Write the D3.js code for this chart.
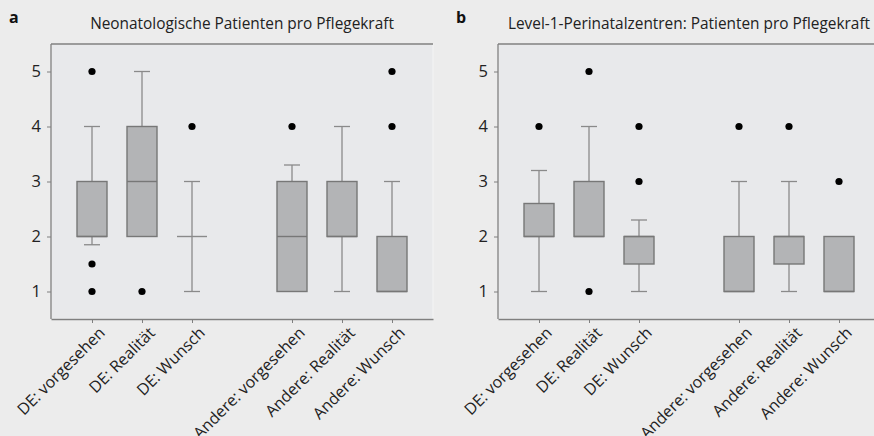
<!DOCTYPE html>
<html>
<head>
<meta charset="utf-8">
<script src="https://cdn.jsdelivr.net/npm/d3@7"></script>
<style>
  body { margin: 0; background: #ececec; }
  svg { display: block; font-family: "Open Sans", "Noto Sans", sans-serif; }
</style>
</head>
<body>
<script>
// categories (the empty slot "gap" separates the DE and Andere groups)
const categories = ["DE: vorgesehen", "DE: Realität", "DE: Wunsch", "gap",
  "Andere: vorgesehen", "Andere: Realität", "Andere: Wunsch"];
const labels = categories.filter(d => d !== "gap");
const yTicks = [1, 2, 3, 4, 5];

// panel a: Neonatologische Patienten pro Pflegekraft
const aQ1      = [2, 2, 2, 1, 2, 1];
const aMedian  = [2, 3, 2, 2, 2, 1];
const aQ3      = [3, 4, 2, 3, 3, 2];
const aLow     = [1.85, 2, 1, 1, 1, 1];
const aHigh    = [4, 5, 3, 3.3, 4, 3];
const aOut     = [[5, 1.5, 1], [1], [4], [4], [], [4, 5]];

// panel b: Level-1-Perinatalzentren
const bQ1      = [2, 2, 1.5, 1, 1.5, 1];
const bMedian  = [2, 2, 2, 1, 2, 1];
const bQ3      = [2.6, 3, 2, 2, 2, 2];
const bLow     = [1, 2, 1, 1, 1, 1];
const bHigh    = [3.2, 4, 2.3, 3, 3, 2];
const bOut     = [[4], [5, 1], [4, 3], [4], [4], [3]];

const W = 874, H = 436;
const svg = d3.select("body").append("svg").attr("width", W).attr("height", H);

function buildRows(q1, med, q3, lo, hi, out) {
  return labels.map((c, i) => ({ cat: c, q1: q1[i], med: med[i], q3: q3[i], lo: lo[i], hi: hi[i], out: out[i] }));
}

function drawPanel(left, letter, title, rows) {
  const top = 44, bottom = 319, pw = 382;
  const g = svg.append("g");

  const x = d3.scalePoint().domain(categories).range([left, left + pw]).padding(0.82);
  const y = d3.scaleLinear().domain([0.5, 5.5]).range([bottom, top]);

  g.append("rect")
    .attr("x", left).attr("y", top).attr("width", pw).attr("height", bottom - top)
    .attr("fill", "#e8e9eb").attr("stroke", "#f4f4f4").attr("stroke-width", 1);

  // frame top line
  g.append("line").attr("x1", left).attr("x2", left + pw).attr("y1", top).attr("y2", top)
    .attr("stroke", "#7f7f7f").attr("stroke-width", 1.3);

  const yAxis = g.append("g")
    .attr("transform", `translate(${left},0)`)
    .call(d3.axisLeft(y).tickValues(yTicks).tickSize(4).tickPadding(6).tickFormat(d3.format("d")));
  const xAxis = g.append("g")
    .attr("transform", `translate(0,${bottom})`)
    .call(d3.axisBottom(x).tickValues(labels).tickSize(4).tickSizeOuter(0).tickFormat(""));
  [yAxis, xAxis].forEach(a => {
    a.select(".domain").attr("stroke", "#7f7f7f").attr("stroke-width", 1.3);
    a.selectAll(".tick line").attr("stroke", "#7f7f7f");
  });
  yAxis.select(".domain").attr("d", `M0,${top}V${bottom}`);
  yAxis.selectAll(".tick text").attr("font-size", 16.5).attr("fill", "#222").attr("font-family", "'Open Sans', sans-serif");

  // rotated category labels
  g.selectAll("text.cat").data(labels).join("text")
    .attr("class", "cat")
    .attr("transform", d => `translate(${x(d) + 6},${bottom + 7}) rotate(-45)`)
    .attr("text-anchor", "end")
    .attr("dy", "0.7em")
    .attr("font-size", 16)
    .attr("fill", "#222")
    .text(d => d);

  const bw = 30, cw = 16;
  const box = g.selectAll("g.box").data(rows).join("g").attr("class", "box");

  box.append("line")
    .attr("x1", d => x(d.cat)).attr("x2", d => x(d.cat))
    .attr("y1", d => y(d.hi)).attr("y2", d => y(d.q3))
    .attr("stroke", "#8a8a8a").attr("stroke-width", 1.3);
  box.append("line")
    .attr("x1", d => x(d.cat)).attr("x2", d => x(d.cat))
    .attr("y1", d => y(d.q1)).attr("y2", d => y(d.lo))
    .attr("stroke", "#8a8a8a").attr("stroke-width", 1.3);
  // whisker caps
  box.filter(d => d.hi > d.q3).append("line")
    .attr("x1", d => x(d.cat) - cw / 2).attr("x2", d => x(d.cat) + cw / 2)
    .attr("y1", d => y(d.hi)).attr("y2", d => y(d.hi))
    .attr("stroke", "#8a8a8a").attr("stroke-width", 1.3);
  box.filter(d => d.lo < d.q1).append("line")
    .attr("x1", d => x(d.cat) - cw / 2).attr("x2", d => x(d.cat) + cw / 2)
    .attr("y1", d => y(d.lo)).attr("y2", d => y(d.lo))
    .attr("stroke", "#8a8a8a").attr("stroke-width", 1.3);

  box.filter(d => d.q3 > d.q1).append("rect")
    .attr("x", d => x(d.cat) - bw / 2).attr("width", bw)
    .attr("y", d => y(d.q3)).attr("height", d => y(d.q1) - y(d.q3))
    .attr("fill", "#b3b4b6").attr("stroke", "#777").attr("stroke-width", 1.4);
  box.append("line")
    .attr("x1", d => x(d.cat) - bw / 2).attr("x2", d => x(d.cat) + bw / 2)
    .attr("y1", d => y(d.med)).attr("y2", d => y(d.med))
    .attr("stroke", d => d.q3 > d.q1 ? "#777" : "#8a8a8a").attr("stroke-width", 1.4);

  box.selectAll("circle").data(d => d.out.map(v => ({ cat: d.cat, v }))).join("circle")
    .attr("cx", d => x(d.cat)).attr("cy", d => y(d.v)).attr("r", 3.6)
    .attr("fill", "#000");

  svg.append("text")
    .attr("x", left + pw / 2).attr("y", 29)
    .attr("text-anchor", "middle").attr("font-size", 15.4).attr("fill", "#222")
    .text(title);
  svg.append("text")
    .attr("x", left - 42).attr("y", 23)
    .attr("font-size", 16).attr("font-weight", "bold").attr("fill", "#111")
    .text(letter);
}

drawPanel(51, "a", "Neonatologische Patienten pro Pflegekraft",
  buildRows(aQ1, aMedian, aQ3, aLow, aHigh, aOut));
drawPanel(498, "b", "Level-1-Perinatalzentren: Patienten pro Pflegekraft",
  buildRows(bQ1, bMedian, bQ3, bLow, bHigh, bOut));
</script>
</body>
</html>
